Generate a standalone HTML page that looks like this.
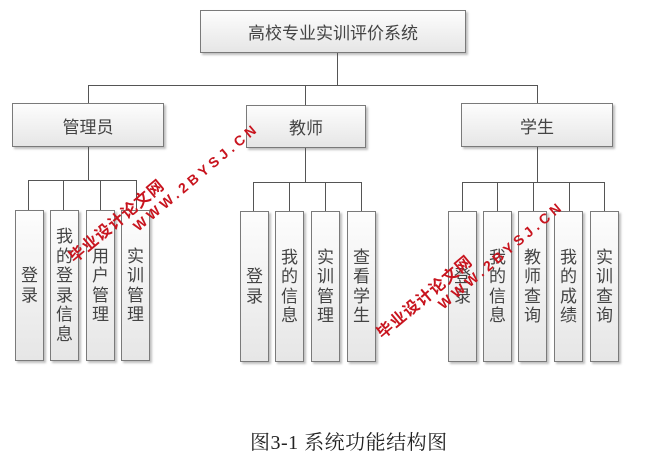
<!DOCTYPE html>
<html><head><meta charset="utf-8"><style>
body{margin:0;width:647px;height:455px;background:#fff;position:relative;overflow:hidden;font-family:"Liberation Sans","Noto Sans CJK SC",sans-serif;}
.b{position:absolute;box-sizing:border-box;border:1px solid #7a7a7a;background:linear-gradient(#fdfdfd,#e6e6e6);box-shadow:2px 2px 2px rgba(0,0,0,0.25);color:#444;font-size:17px;display:flex;align-items:center;justify-content:center;text-align:center;}
.v{line-height:19.5px;}
.h{position:absolute;height:1px;background:#555;}
.l{position:absolute;width:1px;background:#555;}
.w{position:absolute;color:#c8141e;font-weight:bold;white-space:nowrap;transform-origin:0 50%;transform:rotate(-40deg);font-family:"Liberation Sans","Noto Sans CJK SC",sans-serif;}
</style></head><body>
<div class="b" style="left:200px;top:10px;width:266px;height:43px;">高校专业实训评价系统</div>
<div class="l" style="left:337px;top:53px;height:32px"></div>
<div class="h" style="left:88px;top:85px;width:450px"></div>
<div class="l" style="left:88px;top:85px;height:18px"></div>
<div class="l" style="left:305px;top:85px;height:20px"></div>
<div class="l" style="left:537px;top:85px;height:20px"></div>

<div class="b" style="left:12px;top:103px;width:152px;height:44px;">管理员</div>
<div class="b" style="left:246px;top:105px;width:120px;height:43px;">教师</div>
<div class="b" style="left:461px;top:103px;width:152px;height:44px;">学生</div>

<div class="l" style="left:88px;top:147px;height:33px"></div>
<div class="h" style="left:28px;top:180px;width:109px"></div>
<div class="l" style="left:28px;top:180px;height:30px"></div>
<div class="l" style="left:63px;top:180px;height:30px"></div>
<div class="l" style="left:100px;top:180px;height:30px"></div>
<div class="l" style="left:136px;top:180px;height:30px"></div>
<div class="b v" style="left:15px;top:210px;width:29px;height:151px;">登<br>录</div>
<div class="b v" style="left:50px;top:210px;width:29px;height:151px;">我<br>的<br>登<br>录<br>信<br>息</div>
<div class="b v" style="left:86px;top:210px;width:29px;height:151px;">用<br>户<br>管<br>理</div>
<div class="b v" style="left:121px;top:210px;width:29px;height:151px;">实<br>训<br>管<br>理</div>

<div class="l" style="left:305px;top:148px;height:34px"></div>
<div class="h" style="left:253px;top:182px;width:109px"></div>
<div class="l" style="left:253px;top:182px;height:29px"></div>
<div class="l" style="left:289px;top:182px;height:29px"></div>
<div class="l" style="left:325px;top:182px;height:29px"></div>
<div class="l" style="left:361px;top:182px;height:29px"></div>
<div class="b v" style="left:240px;top:211px;width:29px;height:151px;">登<br>录</div>
<div class="b v" style="left:275px;top:211px;width:29px;height:151px;">我<br>的<br>信<br>息</div>
<div class="b v" style="left:311px;top:211px;width:29px;height:151px;">实<br>训<br>管<br>理</div>
<div class="b v" style="left:347px;top:211px;width:29px;height:151px;">查<br>看<br>学<br>生</div>

<div class="l" style="left:537px;top:147px;height:35px"></div>
<div class="h" style="left:462px;top:182px;width:143px"></div>
<div class="l" style="left:462px;top:182px;height:29px"></div>
<div class="l" style="left:497px;top:182px;height:29px"></div>
<div class="l" style="left:533px;top:182px;height:29px"></div>
<div class="l" style="left:569px;top:182px;height:29px"></div>
<div class="l" style="left:604px;top:182px;height:29px"></div>
<div class="b v" style="left:448px;top:211px;width:29px;height:151px;">登<br>录</div>
<div class="b v" style="left:483px;top:211px;width:29px;height:151px;">我<br>的<br>信<br>息</div>
<div class="b v" style="left:518px;top:211px;width:29px;height:151px;">教<br>师<br>查<br>询</div>
<div class="b v" style="left:554px;top:211px;width:29px;height:151px;">我<br>的<br>成<br>绩</div>
<div class="b v" style="left:590px;top:211px;width:29px;height:151px;">实<br>训<br>查<br>询</div>

<div class="w" style="left:70px;top:246px;font-size:16px;letter-spacing:1px;">毕业设计论文网</div>
<div class="w" style="left:135px;top:220px;font-size:14px;letter-spacing:4px;">WWW.2BYSJ.CN</div>
<div class="w" style="left:378px;top:322px;font-size:16px;letter-spacing:1px;">毕业设计论文网</div>
<div class="w" style="left:440px;top:298px;font-size:14px;letter-spacing:4px;">WWW.2BYSJ.CN</div>

<div style="position:absolute;left:250px;top:426px;width:220px;font-size:20px;letter-spacing:0.5px;color:#222;font-family:'Liberation Serif','Noto Serif CJK SC',serif;white-space:nowrap;">图3-1 系统功能结构图</div>
</body></html>
